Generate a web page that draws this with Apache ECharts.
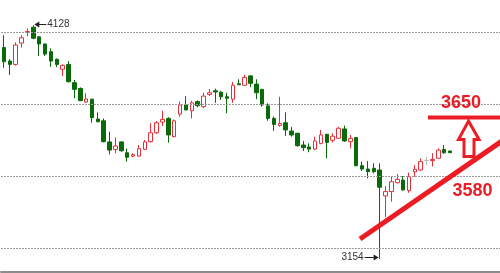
<!DOCTYPE html>
<html><head><meta charset="utf-8">
<script src="https://cdn.jsdelivr.net/npm/echarts/dist/echarts.min.js"></script>
<style>html,body{margin:0;padding:0;background:#fff}#c{width:500px;height:273px}</style>
</head><body><div id="c"></div><script>
// ---- data ----
const openVals  = [4035,3979,3965,4054,4098,4120,4080,4050,4018,3986,3945,3965,3889,3865,3808,3820,3737,3730,3642,3611,3642,3597,3583,3583,3611,3643,3680,3725,3740,3664,3758,3796,3772,3810,3789,3840,3855,3849,3830,3820,3884,3878,3917,3883,3861,3792,3740,3711,3722,3687,3678,3629,3621,3612,3636,3674,3649,3657,3696,3643,3660,3543,3529,3532,3525,3417,3435,3472,3483,3439,3517,3525,3565,3564,3574,3611,3604];
const closeVals = [3976,3965,4046,4076,4102,4074,4050,4008,3979,3965,3961,3893,3861,3814,3821,3743,3726,3643,3608,3625,3605,3578,3589,3614,3642,3680,3722,3736,3671,3730,3796,3775,3805,3793,3833,3847,3850,3830,3824,3878,3880,3911,3886,3847,3796,3740,3715,3719,3692,3671,3626,3618,3612,3646,3671,3640,3666,3699,3646,3657,3543,3529,3518,3518,3453,3435,3476,3486,3442,3497,3528,3560,3565,3569,3608,3597,3597];
const lowVals   = [3951,3921,3960,4035,4082,4070,4000,4000,3955,3954,3917,3890,3824,3812,3805,3722,3724,3640,3590,3595,3601,3560,3578,3580,3608,3639,3675,3708,3639,3661,3747,3775,3740,3786,3782,3833,3805,3817,3761,3805,3880,3876,3870,3820,3789,3730,3688,3705,3667,3664,3622,3604,3599,3608,3632,3574,3640,3655,3642,3615,3540,3521,3490,3511,3154,3328,3393,3469,3439,3430,3497,3522,3545,3540,3572,3592,3596];
const highVals  = [4087,3987,4057,4087,4115,4128,4082,4052,4032,3990,3965,3979,3900,3869,3845,3822,3765,3740,3685,3661,3644,3615,3595,3629,3650,3720,3729,3772,3745,3735,3810,3833,3813,3815,3847,3862,3864,3855,3847,3892,3903,3922,3920,3903,3863,3803,3747,3830,3765,3705,3680,3646,3636,3664,3692,3675,3678,3705,3710,3671,3662,3560,3562,3553,3553,3458,3500,3508,3500,3514,3546,3574,3580,3595,3615,3629,3606];
const emptySlots = 8;            // blank space to the right of the last candle
const gridLevels = [3200, 3500, 3800, 4100];
const annotations = { upper: '3650', lower: '3580' };

// ---- build ----
const n = openVals.length;
const categories = [];
for (let i = 0; i < n + emptySlots; i++) categories.push(String(i + 1));
const candleData = openVals.map((o, i) => [o, closeVals[i], lowVals[i], highVals[i]]);
let hiIdx = 0, loIdx = 0;
highVals.forEach((v, i) => { if (v > highVals[hiIdx]) hiIdx = i; });
lowVals.forEach((v, i) => { if (v < lowVals[loIdx]) loIdx = i; });

const RED = '#ec1c24';
const chart = echarts.init(document.getElementById('c'), null, {renderer: 'canvas'});
chart.setOption({
  animation: false,
  backgroundColor: '#fff',
  grid: { left: 1, right: 0, top: 0, height: 272 },
  xAxis: {
    type: 'category', data: categories, boundaryGap: true,
    axisLine: { show: true, lineStyle: { color: '#8c8c8c', width: 2 } },
    axisTick: { show: false }, axisLabel: { show: false }, splitLine: { show: false }
  },
  yAxis: {
    type: 'value', min: 3100, max: 3100 + 272 * 300 / 72, show: false, splitLine: { show: false }
  },
  series: [{
    type: 'candlestick',
    data: candleData,
    barWidth: 4,
    itemStyle: {
      color: '#ffffff', borderColor: '#e3303a',
      color0: '#0a6a0a', borderColor0: '#0a6a0a',
      borderColorDoji: '#b8b8b8', borderWidth: 1
    },
    markLine: {
      silent: true, symbol: 'none', label: { show: false },
      lineStyle: { color: '#9a9a9a', type: [2, 1], width: 1 },
      data: gridLevels.map(v => ({ yAxis: v }))
    },
    z: 3
  }]
});

const ptHi = chart.convertToPixel({xAxisIndex: 0, yAxisIndex: 0}, [hiIdx, highVals[hiIdx]]);
const ptLo = chart.convertToPixel({xAxisIndex: 0, yAxisIndex: 0}, [loIdx, lowVals[loIdx]]);
const lab = { fontFamily: 'Liberation Sans, Arial, sans-serif', fontSize: 10, fill: '#333' };
const hy = Math.round(ptHi[1]) - 0.5, ly = Math.round(ptLo[1]) - 1.5;
const graphics = [
  // high marker
  { type: 'line', shape: { x1: ptHi[0] + 3, y1: hy, x2: ptHi[0] + 13, y2: hy }, style: { stroke: '#222', lineWidth: 1 } },
  { type: 'polygon', shape: { points: [[ptHi[0] + 1, hy], [ptHi[0] + 6, hy - 3], [ptHi[0] + 6, hy + 3]] }, style: { fill: '#222' } },
  { type: 'text', x: ptHi[0] + 14, y: hy, style: Object.assign({ text: String(highVals[hiIdx]), textVerticalAlign: 'middle', verticalAlign: 'middle' }, lab) },
  // low marker
  { type: 'line', shape: { x1: ptLo[0] - 15, y1: ly, x2: ptLo[0] - 4, y2: ly }, style: { stroke: '#222', lineWidth: 1 } },
  { type: 'polygon', shape: { points: [[ptLo[0] - 1, ly], [ptLo[0] - 6, ly - 3], [ptLo[0] - 6, ly + 3]] }, style: { fill: '#222' } },
  { type: 'text', x: ptLo[0] - 16, y: ly, style: Object.assign({ text: String(lowVals[loIdx]), textAlign: 'right', align: 'right', textVerticalAlign: 'middle', verticalAlign: 'middle' }, lab) },
  // hand-drawn annotations
  { type: 'line', shape: { x1: 360, y1: 239, x2: 502, y2: 141 }, style: { stroke: RED, lineWidth: 5 }, z: 10 },
  { type: 'line', shape: { x1: 428, y1: 117.5, x2: 500, y2: 117.5 }, style: { stroke: RED, lineWidth: 4 }, z: 10 },
  { type: 'polygon', shape: { points: [[468.5, 121], [479, 139.5], [474, 139.5], [474, 156.5], [464, 156.5], [464, 139.5], [458.5, 139.5]] },
    style: { fill: 'rgba(255,255,255,0)', stroke: RED, lineWidth: 3, lineJoin: 'miter' }, z: 10 },
  { type: 'text', x: 461, y: 103, style: { text: annotations.upper, fontFamily: 'Liberation Sans, Arial, sans-serif', fontWeight: 'bold', fontSize: 18, fill: RED, textAlign: 'center', align: 'center', textVerticalAlign: 'middle', verticalAlign: 'middle' }, z: 10 },
  { type: 'text', x: 472.5, y: 191.5, style: { text: annotations.lower, fontFamily: 'Liberation Sans, Arial, sans-serif', fontWeight: 'bold', fontSize: 18, fill: RED, textAlign: 'center', align: 'center', textVerticalAlign: 'middle', verticalAlign: 'middle' }, z: 10 }
];
chart.setOption({ graphic: graphics });
</script></body></html>
